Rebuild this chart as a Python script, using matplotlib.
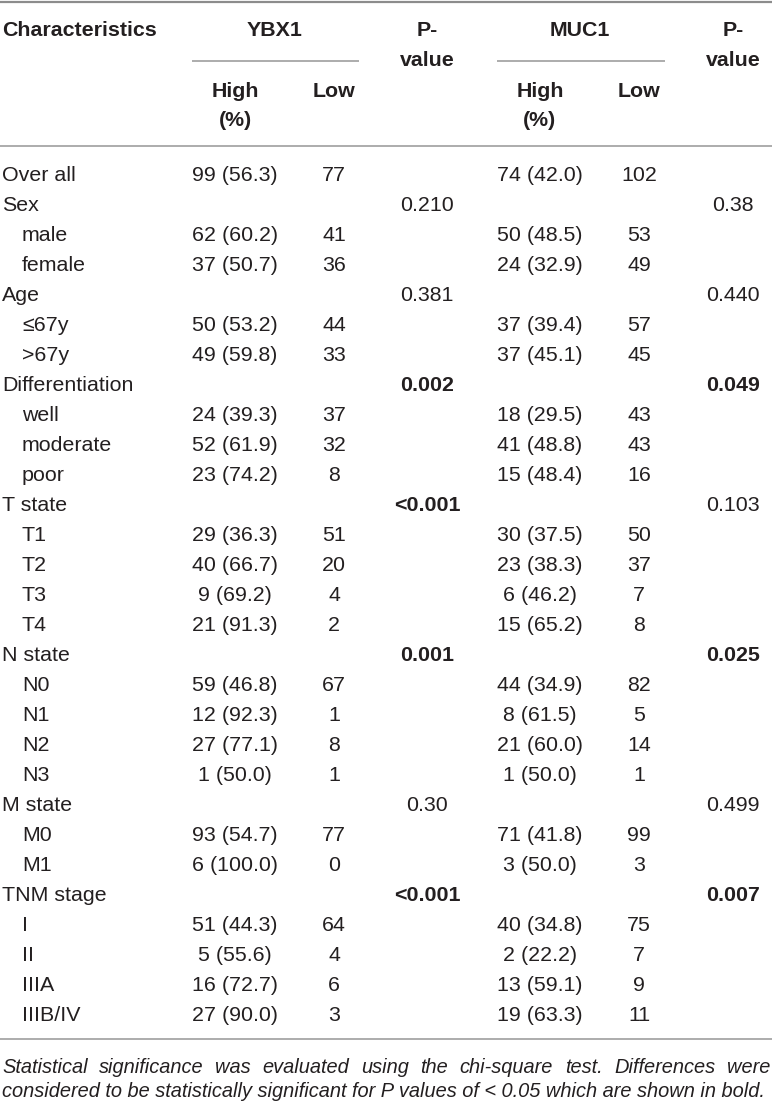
import matplotlib
matplotlib.use('Agg')
import matplotlib.pyplot as plt

plt.rcParams['font.family'] = ['Liberation Sans', 'DejaVu Sans']

# table content
labels = ["Over all", "Sex", "male", "female", "Age", "\u226467y", ">67y",
          "Differentiation", "well", "moderate", "poor",
          "T state", "T1", "T2", "T3", "T4",
          "N state", "N0", "N1", "N2", "N3",
          "M state", "M0", "M1",
          "TNM stage", "I", "II", "IIIA", "IIIB/IV"]
indented = [0, 0, 1, 1, 0, 1, 1, 0, 1, 1, 1, 0, 1, 1, 1, 1,
            0, 1, 1, 1, 1, 0, 1, 1, 0, 1, 1, 1, 1]

ybx1_high = ["99 (56.3)", "", "62 (60.2)", "37 (50.7)", "", "50 (53.2)", "49 (59.8)",
             "", "24 (39.3)", "52 (61.9)", "23 (74.2)",
             "", "29 (36.3)", "40 (66.7)", "9 (69.2)", "21 (91.3)",
             "", "59 (46.8)", "12 (92.3)", "27 (77.1)", "1 (50.0)",
             "", "93 (54.7)", "6 (100.0)",
             "", "51 (44.3)", "5 (55.6)", "16 (72.7)", "27 (90.0)"]
ybx1_low = ["77", "", "41", "36", "", "44", "33",
            "", "37", "32", "8",
            "", "51", "20", "4", "2",
            "", "67", "1", "8", "1",
            "", "77", "0",
            "", "64", "4", "6", "3"]
ybx1_p = ["", "0.210", "", "", "0.381", "", "",
          "0.002", "", "", "",
          "<0.001", "", "", "", "",
          "0.001", "", "", "", "",
          "0.30", "", "",
          "<0.001", "", "", "", ""]

muc1_high = ["74 (42.0)", "", "50 (48.5)", "24 (32.9)", "", "37 (39.4)", "37 (45.1)",
             "", "18 (29.5)", "41 (48.8)", "15 (48.4)",
             "", "30 (37.5)", "23 (38.3)", "6 (46.2)", "15 (65.2)",
             "", "44 (34.9)", "8 (61.5)", "21 (60.0)", "1 (50.0)",
             "", "71 (41.8)", "3 (50.0)",
             "", "40 (34.8)", "2 (22.2)", "13 (59.1)", "19 (63.3)"]
muc1_low = ["102", "", "53", "49", "", "57", "45",
            "", "43", "43", "16",
            "", "50", "37", "7", "8",
            "", "82", "5", "14", "1",
            "", "99", "3",
            "", "75", "7", "9", "11"]
muc1_p = ["", "0.38", "", "", "0.440", "", "",
          "0.049", "", "", "",
          "0.103", "", "", "", "",
          "0.025", "", "", "", "",
          "0.499", "", "",
          "0.007", "", "", "", ""]

# P values below 0.05 are set in bold
significant = {"0.002", "0.049", "<0.001", "0.001", "0.025", "0.007"}

footnote = ["Statistical significance was evaluated using the chi-square test. Differences were",
            "considered to be statistically significant for P values of < 0.05 which are shown in bold."]

W, H = 772, 1101
TXT = '#231f20'
RULE = '#a6a6a6'
FS = 15.4

fig = plt.figure(figsize=(W / 100, H / 100), dpi=100)
ax = fig.add_axes([0, 0, 1, 1])
ax.set_xlim(0, W)
ax.set_ylim(H, 0)
ax.axis('off')

# column centres (pixels)
x_label, x_indent = 2, 22
x_yh, x_yl, x_yp = 235, 334, 427
x_mh, x_ml, x_mp = 540, 639, 733

# rules
ax.plot([0, W], [1.5, 1.5], color='#8c8c8c', lw=1.6, solid_capstyle='butt')
ax.plot([192, 359], [61, 61], color=RULE, lw=1.3, solid_capstyle='butt')
ax.plot([497, 665], [61, 61], color=RULE, lw=1.3, solid_capstyle='butt')
ax.plot([0, W], [146, 146], color=RULE, lw=1.3, solid_capstyle='butt')
ax.plot([0, W], [1039, 1039], color=RULE, lw=1.3, solid_capstyle='butt')

# header
hdr = dict(fontsize=FS, fontweight='bold', color=TXT, va='baseline')
ax.text(x_label, 36, "Characteristics", ha='left', **hdr)
ax.text(275, 36, "YBX1", ha='center', **hdr)
ax.text(580, 36, "MUC1", ha='center', **hdr)
for xc in (x_yp, x_mp):
    ax.text(xc, 36, "P-", ha='center', **hdr)
    ax.text(xc, 66, "value", ha='center', **hdr)
for xh, xl in ((x_yh, x_yl), (x_mh, x_ml)):
    ax.text(xh, 97, "High", ha='center', **hdr)
    ax.text(xh, 126, "(%)", ha='center', **hdr)
    ax.text(xl, 97, "Low", ha='center', **hdr)

# body
base0, step = 181, 30.0
for i, lab in enumerate(labels):
    yb = base0 + i * step
    body = dict(fontsize=FS, color=TXT, va='baseline')
    ax.text(x_indent if indented[i] else x_label, yb, lab, ha='left', **body)
    ax.text(x_yh, yb, ybx1_high[i], ha='center', **body)
    ax.text(x_yl, yb, ybx1_low[i], ha='center', **body)
    ax.text(x_mh, yb, muc1_high[i], ha='center', **body)
    ax.text(x_ml, yb, muc1_low[i], ha='center', **body)
    for xc, p in ((x_yp, ybx1_p[i]), (x_mp, muc1_p[i])):
        ax.text(xc, yb, p, ha='center',
                fontweight='bold' if p in significant else 'normal', **body)

# footnote: first line justified, second line flush left
renderer = fig.canvas.get_renderer()


def text_width(s, size):
    t = ax.text(0, 0, s, fontsize=size, style='italic')
    w = t.get_window_extent(renderer).width
    t.remove()
    return w


fn_size = 12.0 * 763 / text_width(footnote[1], 12.0)
fn = dict(fontsize=fn_size, style='italic', color=TXT, va='baseline', ha='left')

words = footnote[0].split(' ')
widths = [text_width(w, fn_size) for w in words]
gap = (768 - sum(widths)) / (len(words) - 1)
x = 2
for w, wd in zip(words, widths):
    ax.text(x, 1073, w, **fn)
    x += wd + gap
ax.text(2, 1097, footnote[1], **fn)

fig.savefig('out.png', dpi=100)
